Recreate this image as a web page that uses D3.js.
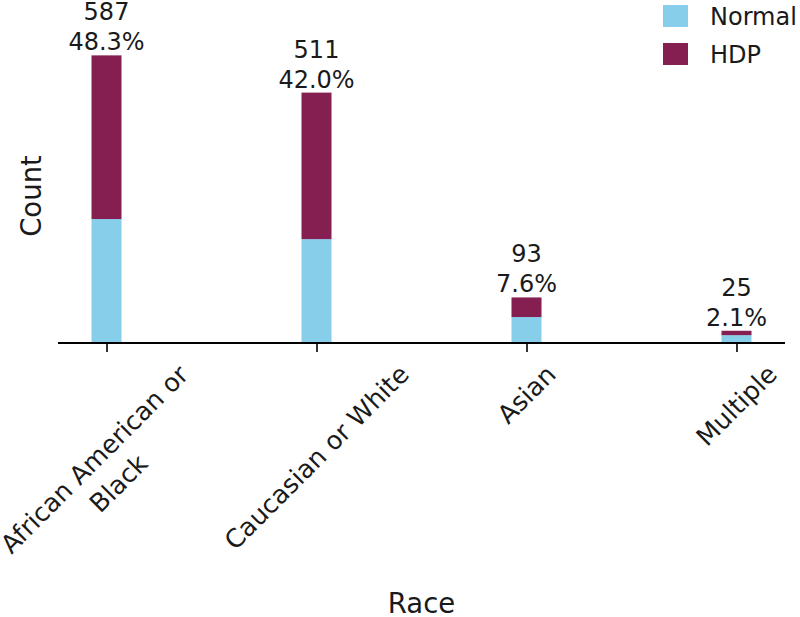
<!DOCTYPE html>
<html>
<head>
<meta charset="utf-8">
<script src="https://cdn.jsdelivr.net/npm/d3@7"></script>
<style>
  html, body { margin: 0; padding: 0; background: #fff; }
  svg { display: block; }
  text { font-family: "DejaVu Sans", sans-serif; fill: #1a1a1a; }
</style>
</head>
<body>
<svg id="chart" width="800" height="617"></svg>
<script>
// ---- data ----
const categories = ["African American or\nBlack", "Caucasian or White", "Asian", "Multiple"];
const normalCounts = [253, 212, 53, 16];
const hdpCounts = [334, 299, 40, 9];
const seriesNames = ["Normal", "HDP"];
const colors = ["#87CEEB", "#861F51"];

const svg = d3.select("#chart");
const mLeft = 58, mRight = 785, mTop = 49, mBottom = 343;

const totals = categories.map((c, i) => normalCounts[i] + hdpCounts[i]);
const grand = d3.sum(totals);

const x = d3.scalePoint().domain(categories).range([mLeft, mRight]).padding(0.231);
const y = d3.scaleLinear().domain([0, 600]).range([mBottom, mTop]);
const barW = 30;

const table = categories.map((c, i) => ({cat: c, Normal: normalCounts[i], HDP: hdpCounts[i]}));
const stacked = d3.stack().keys(seriesNames)(table);

// bars
svg.append("g").selectAll("g")
  .data(stacked).join("g")
  .attr("fill", (d, i) => colors[i])
  .selectAll("rect")
  .data(d => d).join("rect")
  .attr("x", d => x(d.data.cat) - barW / 2)
  .attr("width", barW)
  .attr("y", d => y(d[1]))
  .attr("height", d => y(d[0]) - y(d[1]));

// value labels
const fs = 24;
categories.forEach((c, i) => {
  const t = svg.append("text")
    .attr("text-anchor", "middle")
    .style("font-size", fs + "px");
  const yTop = y(totals[i]) - 5;
  t.append("tspan").attr("x", x(c)).attr("y", yTop - 30).text(totals[i]);
  t.append("tspan").attr("x", x(c)).attr("y", yTop).text((totals[i] / grand * 100).toFixed(1) + "%");
});

// x axis
const xAxis = d3.axisBottom(x).tickSize(9).tickFormat("");
const gx = svg.append("g").attr("transform", `translate(0,${mBottom})`).call(xAxis);
gx.select(".domain").attr("stroke", "#000").attr("stroke-width", 2)
  .attr("d", `M${mLeft},0H${mRight}`);
gx.selectAll(".tick line").attr("stroke", "#000").attr("stroke-width", 1.6);

// tick labels rotated 45, bbox centred on tick, top at pad
const tfs = 25.5;
categories.forEach(c => {
  const outer = svg.append("g").attr("transform", `translate(${x(c)},${mBottom + 16})`);
  const inner = outer.append("g");
  const t = inner.append("text")
    .attr("text-anchor", "middle")
    .attr("transform", "rotate(-45)")
    .style("font-size", tfs + "px");
  const lines = c.split("\n");
  lines.forEach((ln, k) => {
    t.append("tspan").attr("x", 0).attr("y", k * 34).text(ln);
  });
  const bb = inner.node().getBBox();
  inner.attr("transform", `translate(${-(bb.x + bb.width / 2)},${-bb.y})`);
});

// axis labels
svg.append("text")
  .attr("transform", `translate(41,196) rotate(-90)`)
  .attr("text-anchor", "middle")
  .style("font-size", "27.5px")
  .text("Count");
svg.append("text")
  .attr("x", (mLeft + mRight) / 2).attr("y", 613)
  .attr("text-anchor", "middle")
  .style("font-size", "27.5px")
  .text("Race");

// legend
const lg = svg.append("g");
seriesNames.forEach((s, i) => {
  lg.append("rect").attr("x", 663).attr("y", 5 + i * 38).attr("width", 25).attr("height", 22).attr("fill", colors[i]);
  lg.append("text").attr("x", 710).attr("y", 25 + i * 38).style("font-size", fs + "px").text(s);
});
</script>
</body>
</html>
